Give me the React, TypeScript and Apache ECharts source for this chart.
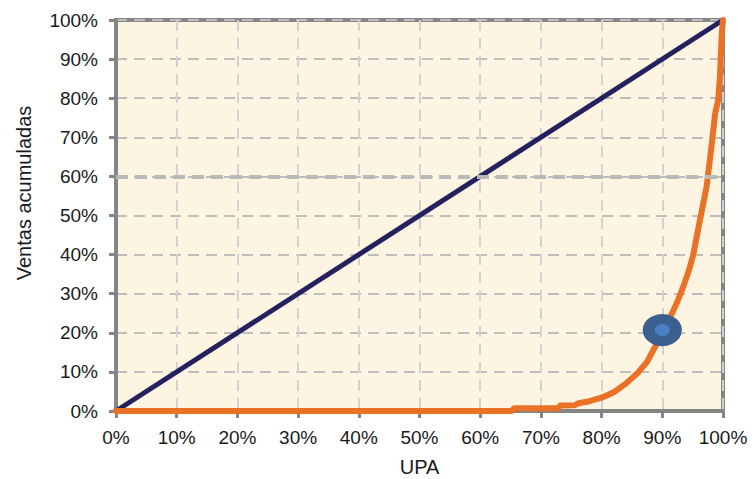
import React, { useEffect, useRef } from "react";
import * as echarts from "echarts";

const xTicks = [0, 10, 20, 30, 40, 50, 60, 70, 80, 90, 100];
const equalityX = [0, 100];
const equalityY = [0, 100];
const curveX = [0, 65.2, 65.6, 72.8, 73.2, 75.6, 76.2, 78, 80, 82, 84, 86, 87.5, 89, 90, 91.3, 92.5, 93.5, 94.4, 95.1, 96.2, 97.3, 98.1, 98.7, 99.2, 99.5, 99.8, 100];
const curveY = [0, 0, 0.7, 0.7, 1.4, 1.5, 2.0, 2.5, 3.4, 4.8, 7.0, 9.8, 12.6, 17.0, 20.3, 24.0, 28.0, 32.0, 36.0, 40.0, 48.8, 57.4, 67.6, 76.0, 79.5, 85.5, 96.5, 100];
const markerPoint = [90, 20.7];
const highlightLevel = 60;
const xName = "UPA";
const yName = "Ventas acumuladas";

export default function App() {
  const ref = useRef<HTMLDivElement>(null);
  useEffect(() => {
    document.body.style.margin = "0";
    const chart = echarts.init(ref.current!, undefined, { renderer: "svg" });
    const font = "Liberation Sans, Arial, sans-serif";
    const gray = "#858585";
    chart.setOption({
      animation: false,
      backgroundColor: "#ffffff",
      grid: {
        left: 116,
        right: 33,
        top: 20,
        bottom: 68,
        outerBoundsMode: "none",
        containLabel: false,
        show: true,
        backgroundColor: "#FDF5E1",
        borderColor: gray,
        borderWidth: 4,
      },
      graphic: [
        {
          type: "text",
          x: 24,
          y: 193,
          rotation: Math.PI / 2,
          style: {
            text: yName,
            font: `20px ${font}`,
            fill: "#1a1a1a",
            align: "center",
            verticalAlign: "middle",
          },
        },
      ],
      xAxis: {
        type: "value",
        min: 0,
        max: 100,
        interval: 10,
        name: xName,
        nameLocation: "middle",
        nameGap: 46,
        nameTextStyle: { fontSize: 20, color: "#1a1a1a", fontFamily: font },
        axisLabel: {
          formatter: "{value}%",
          fontSize: 19,
          color: "#1a1a1a",
          fontFamily: font,
          margin: 17,
        },
        axisLine: { show: true, lineStyle: { color: gray, width: 4 } },
        axisTick: { show: true, length: 7, lineStyle: { color: gray, width: 3 } },
        splitLine: { show: true, lineStyle: { color: "#D2D2D2", width: 2, type: [11, 7] } },
      },
      yAxis: {
        type: "value",
        min: 0,
        max: 100,
        interval: 10,
        axisLabel: {
          formatter: "{value}%",
          fontSize: 19,
          color: "#1a1a1a",
          fontFamily: font,
          margin: 18,
        },
        axisLine: { show: true, lineStyle: { color: gray, width: 4 } },
        axisTick: { show: true, length: 7, lineStyle: { color: gray, width: 3 } },
        splitLine: { show: true, lineStyle: { color: "#BEBEBE", width: 2, type: [11, 7] } },
      },
      series: [
        {
          type: "line",
          data: [],
          z: 1,
          silent: true,
          markLine: {
            silent: true,
            symbol: "none",
            label: { show: false },
            lineStyle: { color: "#B9B9B9", width: 4, type: [12, 7] },
            data: [{ yAxis: highlightLevel }],
          },
        },
        {
          type: "line",
          data: equalityX.map((x, i) => [x, equalityY[i]]),
          showSymbol: false,
          lineStyle: { color: "#24215E", width: 5 },
          z: 3,
        },
        {
          type: "line",
          data: curveX.map((x, i) => [x, curveY[i]]),
          showSymbol: false,
          lineStyle: { color: "#E97226", width: 6, cap: "round", join: "round" },
          z: 4,
        },
        {
          type: "scatter",
          data: [markerPoint],
          symbol: "circle",
          symbolSize: [27, 22],
          itemStyle: { color: "#4A80C2", borderColor: "#3B5F8E", borderWidth: 11, opacity: 1 },
          z: 5,
        },
      ],
    });
    return () => chart.dispose();
  }, []);
  return <div ref={ref} style={{ width: 756, height: 479 }} />;
}
